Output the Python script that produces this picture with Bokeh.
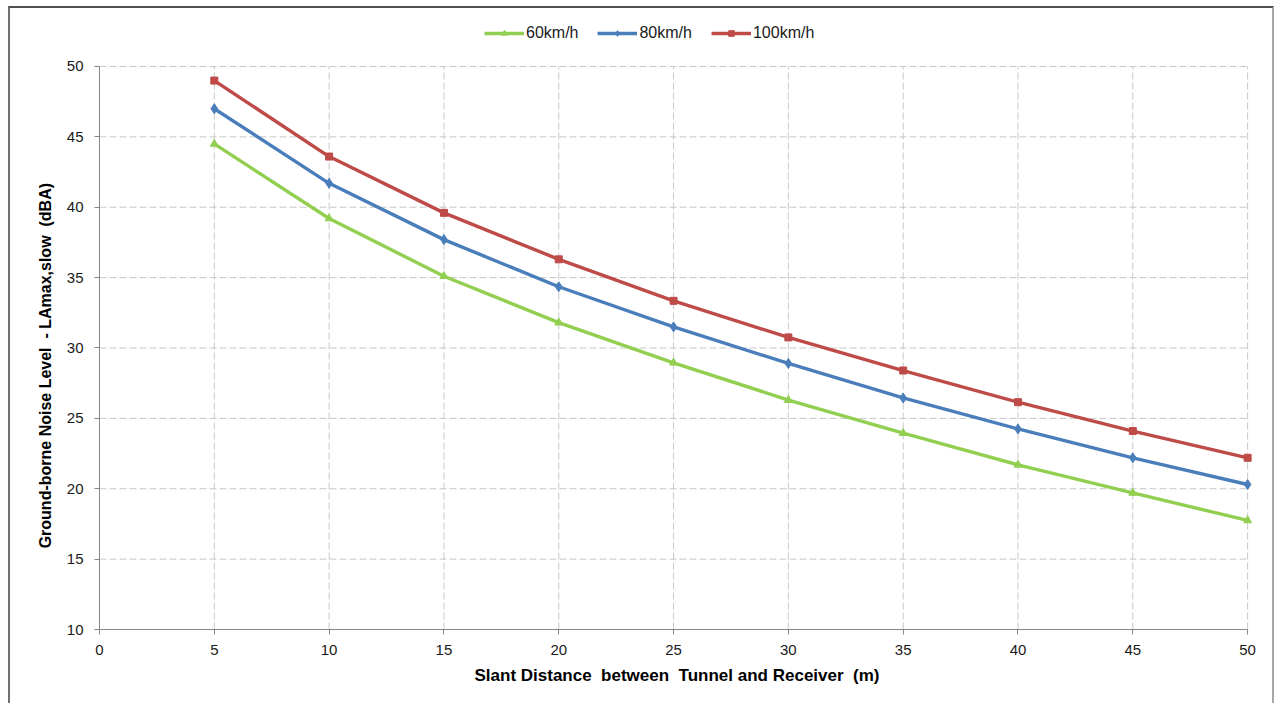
from bokeh.plotting import figure
from bokeh.models import Range1d, Legend, LegendItem, FixedTicker
from bokeh.embed import file_html
from bokeh.resources import INLINE

distance = [5, 10, 15, 20, 25, 30, 35, 40, 45, 50]
speed_labels = ["60km/h", "80km/h", "100km/h"]
noise_60 = [44.5, 39.2, 35.1, 31.8, 28.95, 26.3, 23.95, 21.7, 19.7, 17.75]
noise_80 = [47.0, 41.7, 37.7, 34.35, 31.5, 28.9, 26.45, 24.25, 22.2, 20.3]
noise_100 = [49.0, 43.6, 39.6, 36.3, 33.35, 30.75, 28.4, 26.15, 24.1, 22.2]
x_ticks = [0, 5, 10, 15, 20, 25, 30, 35, 40, 45, 50]
y_ticks = [10, 15, 20, 25, 30, 35, 40, 45, 50]

FONT = "Liberation Sans"
x_lo, x_hi = x_ticks[0], x_ticks[-1]
y_lo, y_hi = y_ticks[0], y_ticks[-1]

# frame spans the whole height above the axis; the space above 50 holds the legend
p = figure(width=1266, height=697, output_backend="svg", toolbar_location=None,
           x_range=Range1d(x_lo, x_hi + 0.3), y_range=Range1d(y_lo, y_hi + 4.12))
p.margin = (6, 0, 0, 8)
p.min_border_left = 89
p.min_border_right = 22
p.min_border_top = 0
p.min_border_bottom = 76
p.outline_line_color = None
p.background_fill_color = "white"
p.border_fill_color = "white"
p.xgrid.visible = False
p.ygrid.visible = False
p.styles = {"border-top": "2px solid #505050", "border-left": "2px solid #707070",
            "border-right": "2px solid #a8a8a8"}

for ax in (p.xaxis[0], p.yaxis[0]):
    ax.axis_line_color = "#868686"
    ax.major_tick_line_color = "#868686"
    ax.major_tick_out = 5
    ax.major_tick_in = 0
    ax.minor_tick_line_color = None
    ax.major_label_text_font = FONT
    ax.major_label_text_font_size = "15px"
    ax.major_label_text_color = "#1a1a1a"
    ax.axis_label_text_font = FONT
    ax.axis_label_text_font_style = "bold"
    ax.axis_label_text_color = "#000000"

p.xaxis[0].bounds = (x_lo, x_hi)
p.yaxis[0].bounds = (y_lo, y_hi)
p.xaxis[0].ticker = FixedTicker(ticks=x_ticks)
p.yaxis[0].ticker = FixedTicker(ticks=y_ticks)
p.xaxis[0].axis_label = "Slant Distance \u00a0between \u00a0Tunnel and Receiver \u00a0(m)"
# trailing no-break spaces shift the (frame-centred) title down to the axis' own middle
p.yaxis[0].axis_label = "Ground-borne Noise Level \u00a0- LAmax,slow \u00a0(dBA)" + "\u00a0" * 21
p.xaxis[0].axis_label_text_font_size = "17px"
p.yaxis[0].axis_label_text_font_size = "16px"
p.xaxis[0].major_label_standoff = 10
p.yaxis[0].major_label_standoff = 11
p.xaxis[0].axis_label_standoff = 8
p.yaxis[0].axis_label_standoff = 10

# dashed grid limited to the axis extents
grid_kw = dict(line_color="#c8c8c8", line_dash="7 3", line_width=1, level="underlay")
p.multi_line(xs=[[t, t] for t in x_ticks[1:]],
             ys=[[y_lo, y_hi] for _ in x_ticks[1:]], **grid_kw)
p.multi_line(xs=[[x_lo, x_hi] for _ in y_ticks[1:]],
             ys=[[t, t] for t in y_ticks[1:]], **grid_kw)

colors = ["#92CF50", "#4A7EBB", "#BE4B48"]
series = [noise_60, noise_80, noise_100]
markers = ["triangle", "diamond", "square"]
msizes = [8, 10, 7]
items = []
for lab, ys, c, m, ms in zip(speed_labels, series, colors, markers, msizes):
    r1 = p.line(distance, ys, line_color=c, line_width=3.4)
    r2 = p.scatter(distance, ys, marker=m, size=ms, fill_color=c, line_color=c)
    items.append(LegendItem(label=lab, renderers=[r1, r2]))

legend = Legend(items=items, orientation="horizontal", location=(385, 587),
                border_line_color=None, background_fill_alpha=0,
                label_text_font=FONT, label_text_font_size="16px",
                label_text_color="#1a1a1a", glyph_width=40, glyph_height=14,
                label_standoff=2, spacing=19, padding=0, margin=0)
p.add_layout(legend, "center")

open("out.html", "w").write(file_html(p, INLINE))
